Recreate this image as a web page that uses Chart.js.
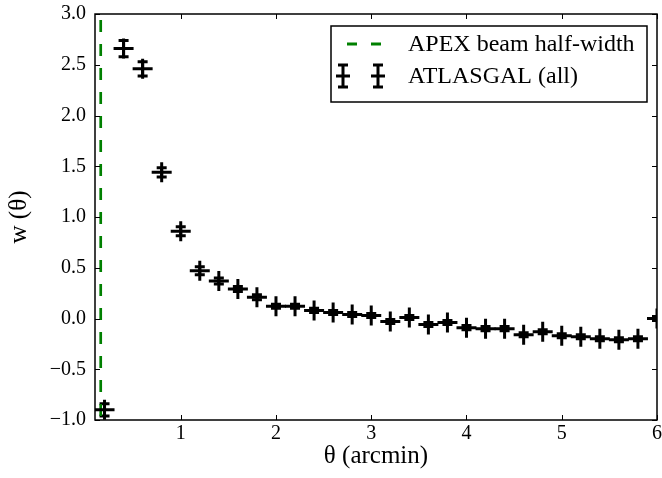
<!DOCTYPE html>
<html>
<head>
<meta charset="utf-8">
<script src="https://cdn.jsdelivr.net/npm/chart.js@4.4.1/dist/chart.umd.min.js"></script>
<style>
  html, body { margin: 0; padding: 0; background: #fff; }
  #wrap { width: 662px; height: 478px; position: relative; }
</style>
</head>
<body>
<div id="wrap"><canvas id="wtheta"></canvas></div>
<script>
/* -------- data -------- */
const thetaArcmin = [0.2, 0.4, 0.6, 0.8, 1.0, 1.2, 1.4, 1.6, 1.8, 2.0,
                     2.2, 2.4, 2.6, 2.8, 3.0, 3.2, 3.4, 3.6, 3.8, 4.0,
                     4.2, 4.4, 4.6, 4.8, 5.0, 5.2, 5.4, 5.6, 5.8, 6.0];
const wTheta = [-0.90, 2.66, 2.46, 1.44, 0.86, 0.47, 0.37, 0.29, 0.21, 0.12,
                 0.12, 0.08, 0.06, 0.04, 0.03, -0.03, 0.01, -0.06, -0.04, -0.09,
                -0.10, -0.10, -0.16, -0.13, -0.17, -0.18, -0.20, -0.21, -0.20, 0.00];
const wErr = [0.06, 0.08, 0.07, 0.045, 0.045, 0.04, 0.03, 0.025, 0.025, 0.02,
              0.02, 0.02, 0.02, 0.02, 0.02, 0.02, 0.02, 0.02, 0.02, 0.02,
              0.02, 0.02, 0.02, 0.02, 0.02, 0.02, 0.02, 0.02, 0.02, 0.02];
const beamHalfWidth = 0.16;          // arcmin
const xTicks = [1, 2, 3, 4, 5, 6];
const yTicks = [-1.0, -0.5, 0.0, 0.5, 1.0, 1.5, 2.0, 2.5, 3.0];
const legendLabels = ["APEX beam half-width", "ATLASGAL (all)"];

const SERIF = "'Liberation Serif', 'Times New Roman', serif";
const GREEN = "#008000";

function fmtY(v) {
  return v < 0 ? "\u2212" + Math.abs(v).toFixed(1) : v.toFixed(1);
}

/* no label overhang padding: plot box is fixed by layout padding */
function noOverhang(s) {
  s.paddingLeft = 0; s.paddingRight = 0;
  s.paddingTop = 0;  s.paddingBottom = 0;
}

/* -------- error bars (through the chart scales) -------- */
const errorBars = {
  id: "errorBars",
  beforeDatasetsDraw(chart) {
    const { ctx, chartArea: a, scales: { x, y } } = chart;
    ctx.save();
    ctx.beginPath();
    ctx.rect(a.left, a.top, a.right - a.left, a.bottom - a.top);
    ctx.clip();
    ctx.strokeStyle = "#000";
    ctx.lineWidth = 3;
    const cap = 5;
    thetaArcmin.forEach((t, i) => {
      const px = x.getPixelForValue(t);
      const top = y.getPixelForValue(wTheta[i] + wErr[i]);
      const bot = y.getPixelForValue(wTheta[i] - wErr[i]);
      ctx.beginPath();
      ctx.moveTo(px, top); ctx.lineTo(px, bot);
      ctx.moveTo(px - cap, top); ctx.lineTo(px + cap, top);
      ctx.moveTo(px - cap, bot); ctx.lineTo(px + cap, bot);
      ctx.stroke();
    });
    ctx.restore();
  }
};

/* -------- matplotlib style frame, inward ticks, boxed legend -------- */
const frameAndLegend = {
  id: "frameAndLegend",
  afterDraw(chart) {
    const { ctx, chartArea: a, scales: { x, y } } = chart;
    ctx.save();
    ctx.strokeStyle = "#000";
    ctx.lineWidth = 1.5;
    ctx.strokeRect(a.left, a.top, a.right - a.left, a.bottom - a.top);

    const tl = 5;
    ctx.lineWidth = 1;
    ctx.beginPath();
    xTicks.forEach(t => {
      const px = Math.round(x.getPixelForValue(t)) + 0.5;
      ctx.moveTo(px, a.bottom); ctx.lineTo(px, a.bottom - tl);
      ctx.moveTo(px, a.top);    ctx.lineTo(px, a.top + tl);
    });
    yTicks.forEach(t => {
      const py = Math.round(y.getPixelForValue(t)) + 0.5;
      ctx.moveTo(a.left, py);  ctx.lineTo(a.left + tl, py);
      ctx.moveTo(a.right, py); ctx.lineTo(a.right - tl, py);
    });
    ctx.stroke();

    // legend box
    const bw = 316, bh = 76;
    const bx = a.right - 10 - bw, by = a.top + 12;
    ctx.fillStyle = "#fff";
    ctx.fillRect(bx, by, bw, bh);
    ctx.lineWidth = 1.5;
    ctx.strokeStyle = "#000";
    ctx.strokeRect(bx, by, bw, bh);

    // row 1: dashed green handle
    const r1 = by + 18, r2 = by + 50;
    ctx.strokeStyle = GREEN;
    ctx.lineWidth = 3;
    ctx.setLineDash([10, 14]);
    ctx.beginPath();
    ctx.moveTo(bx + 16, r1); ctx.lineTo(bx + 52, r1);
    ctx.stroke();
    ctx.setLineDash([]);

    // row 2: two errorbar handles
    ctx.strokeStyle = "#000";
    ctx.lineWidth = 3;
    [bx + 12, bx + 47].forEach(cx => {
      ctx.beginPath();
      ctx.moveTo(cx, r2 - 11); ctx.lineTo(cx, r2 + 11);
      ctx.moveTo(cx - 5, r2 - 11); ctx.lineTo(cx + 5, r2 - 11);
      ctx.moveTo(cx - 5, r2 + 11); ctx.lineTo(cx + 5, r2 + 11);
      ctx.moveTo(cx - 7, r2); ctx.lineTo(cx + 7, r2);
      ctx.stroke();
    });

    ctx.fillStyle = "#000";
    ctx.font = "24px " + SERIF;
    ctx.textBaseline = "middle";
    ctx.textAlign = "left";
    ctx.fillText(legendLabels[0], bx + 77, r1 + 1);
    ctx.fillText(legendLabels[1], bx + 77, r2 + 1);
    ctx.restore();
  }
};

Chart.defaults.font.family = SERIF;
Chart.defaults.color = "#000";

new Chart(document.getElementById("wtheta").getContext("2d"), {
  type: "scatter",
  data: {
    datasets: [
      {
        label: legendLabels[0],
        data: [{ x: beamHalfWidth, y: yTicks[yTicks.length - 1] }, { x: beamHalfWidth, y: yTicks[0] }],
        showLine: true,
        borderColor: GREEN,
        borderWidth: 2.7,
        borderDash: [12, 12],
        borderDashOffset: 18,
        pointRadius: 0,
        order: 2
      },
      {
        label: legendLabels[1],
        data: thetaArcmin.map((t, i) => ({ x: t, y: wTheta[i] })),
        pointStyle: "cross",
        pointRadius: 10,
        pointHoverRadius: 10,
        borderColor: "#000",
        backgroundColor: "#000",
        borderWidth: 3,
        clip: 0,
        order: 1
      }
    ]
  },
  options: {
    responsive: true,
    maintainAspectRatio: false,
    animation: false,
    events: [],
    layout: { autoPadding: false, padding: { top: 14, right: 5, left: 0, bottom: 0 } },
    plugins: { legend: { display: false }, tooltip: { enabled: false } },
    scales: {
      x: {
        type: "linear",
        min: 0.1,
        max: 6,
        afterBuildTicks: s => { s.ticks = xTicks.map(v => ({ value: v })); },
        afterFit: s => { s.height = 58; noOverhang(s); },
        grid: { display: false, drawTicks: false },
        border: { display: false },
        ticks: { font: { size: 20 }, padding: 2, maxRotation: 0, callback: v => String(v) },
        title: { display: true, text: "\u03b8 (arcmin)", font: { size: 25 }, padding: { top: 0, bottom: 7 } }
      },
      y: {
        type: "linear",
        min: -1,
        max: 3,
        afterBuildTicks: s => { s.ticks = yTicks.map(v => ({ value: v })); },
        afterFit: s => { s.width = 95; noOverhang(s); },
        grid: { display: false, drawTicks: false },
        border: { display: false },
        ticks: { font: { size: 20 }, padding: 9, callback: v => fmtY(v) },
        title: { display: true, text: "w (\u03b8)", font: { size: 25 }, padding: { top: 4, bottom: 0 } }
      }
    }
  },
  plugins: [errorBars, frameAndLegend]
});
</script>
</body>
</html>
